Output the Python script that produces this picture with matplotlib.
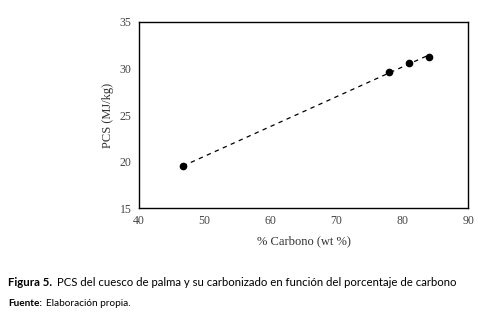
import numpy as np
import matplotlib
matplotlib.use("Agg")
import matplotlib.pyplot as plt

# data
carbono = [46.7, 77.9, 81.0, 84.0]
pcs = [19.5, 29.6, 30.6, 31.2]
x_ticks = [40, 50, 60, 70, 80, 90]
y_ticks = [15, 20, 25, 30, 35]

serif = ["Liberation Serif", "DejaVu Serif"]
sans = ["Lato", "DejaVu Sans"]

fig = plt.figure(figsize=(4.78, 3.31), dpi=100)
ax = fig.add_axes([138.7 / 478, 1 - 208.3 / 331, (468.3 - 138.7) / 478, (208.3 - 21.7) / 331])

# linear trendline
coef = np.polyfit(carbono, pcs, 1)
xt = np.array([min(carbono), max(carbono)])
ax.plot(xt, np.polyval(coef, xt), ls=(0, (3.5, 3.5)), color="black", lw=0.9)
ax.errorbar(carbono, pcs, yerr=0.3, fmt="o", color="black", ms=4.5, elinewidth=0.8, capsize=0)

ax.set_xlim(40, 90)
ax.set_ylim(15, 35)
ax.set_xticks(x_ticks)
ax.set_yticks(y_ticks)
ax.tick_params(length=0, labelsize=8.5, pad=5)
for lab in ax.get_xticklabels() + ax.get_yticklabels():
    lab.set_family(serif)
    lab.set_color("#444444")
for s in ax.spines.values():
    s.set_linewidth(1.0)
ax.set_xlabel("% Carbono (wt %)", family=serif, fontsize=9, color="#333333", labelpad=6)
ax.set_ylabel("PCS (MJ/kg)", family=serif, fontsize=9, color="#333333", labelpad=4)

# caption: bold lead-in followed by plain text
t1 = fig.text(8 / 478, 1 - 283 / 331, "Figura 5.", family=sans, fontsize=8.2, weight="bold", va="center")
fig.canvas.draw()
ax.annotate("PCS del cuesco de palma y su carbonizado en función del porcentaje de carbono",
            xy=(1, 0.5), xycoords=t1, xytext=(3.5, 0), textcoords="offset points",
            family=sans, fontsize=8.2, va="center")
t2 = fig.text(8 / 478, 1 - 304 / 331, "Fuente:", family=sans, fontsize=7.2, weight="bold", va="center")
ax.annotate("Elaboración propia.", xy=(1, 0.5), xycoords=t2, xytext=(3, 0), textcoords="offset points",
            family=sans, fontsize=7.2, va="center")

fig.savefig("out.png", dpi=100)
